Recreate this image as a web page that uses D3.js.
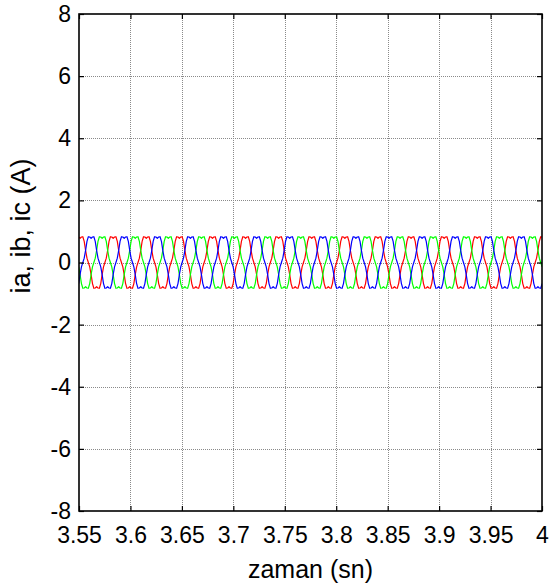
<!DOCTYPE html>
<html><head><meta charset="utf-8">
<script src="https://cdn.jsdelivr.net/npm/d3@7/dist/d3.min.js"></script>
<style>body{margin:0;background:#fff}svg{display:block}</style>
</head><body><svg id="c" width="551" height="587"></svg>
<script>
const xTicks = [3.55, 3.6, 3.65, 3.7, 3.75, 3.8, 3.85, 3.9, 3.95, 4];
const xTickLabels = ["3.55", "3.6", "3.65", "3.7", "3.75", "3.8", "3.85", "3.9", "3.95", "4"];
const yTicks = [-8, -6, -4, -2, 0, 2, 4, 6, 8];
const yTickLabels = ["-8", "-6", "-4", "-2", "0", "2", "4", "6", "8"];
const xLabel = "zaman (sn)";
const yLabel = "ia, ib, ic (A)";
const seriesNames = ["ia", "ib", "ic"];
const seriesColors = ["#ff0000", "#00ff00", "#0000ff"];
// sampled signal: first sample time and sample spacing (s)
const sampleStart = 3.5497;
const sampleStep = 0.0013404;
const ia = [
0.82,0.78,0.82,0.83,0.68,0.39,0.14,0,-0.14,-0.39,-0.68,-0.83,-0.82,-0.78,-0.82,-0.83,-0.68,-0.39,-0.14,0,0.14,0.39,0.68,0.83,
0.82,0.78,0.82,0.83,0.68,0.39,0.14,0,-0.14,-0.39,-0.68,-0.83,-0.82,-0.78,-0.82,-0.83,-0.68,-0.39,-0.14,0,0.14,0.39,0.68,0.83,
0.82,0.78,0.82,0.83,0.68,0.39,0.14,0,-0.14,-0.39,-0.68,-0.83,-0.82,-0.78,-0.82,-0.83,-0.68,-0.39,-0.14,0,0.14,0.39,0.68,0.83,
0.82,0.78,0.82,0.83,0.68,0.39,0.14,0,-0.14,-0.39,-0.68,-0.83,-0.82,-0.78,-0.82,-0.83,-0.68,-0.39,-0.14,0,0.14,0.39,0.68,0.83,
0.82,0.78,0.82,0.83,0.68,0.39,0.14,0,-0.14,-0.39,-0.68,-0.83,-0.82,-0.78,-0.82,-0.83,-0.68,-0.39,-0.14,0,0.14,0.39,0.68,0.83,
0.82,0.78,0.82,0.83,0.68,0.39,0.14,0,-0.14,-0.39,-0.68,-0.83,-0.82,-0.78,-0.82,-0.83,-0.68,-0.39,-0.14,0,0.14,0.39,0.68,0.83,
0.82,0.78,0.82,0.83,0.68,0.39,0.14,0,-0.14,-0.39,-0.68,-0.83,-0.82,-0.78,-0.82,-0.83,-0.68,-0.39,-0.14,0,0.14,0.39,0.68,0.83,
0.82,0.78,0.82,0.83,0.68,0.39,0.14,0,-0.14,-0.39,-0.68,-0.83,-0.82,-0.78,-0.82,-0.83,-0.68,-0.39,-0.14,0,0.14,0.39,0.68,0.83,
0.82,0.78,0.82,0.83,0.68,0.39,0.14,0,-0.14,-0.39,-0.68,-0.83,-0.82,-0.78,-0.82,-0.83,-0.68,-0.39,-0.14,0,0.14,0.39,0.68,0.83,
0.82,0.78,0.82,0.83,0.68,0.39,0.14,0,-0.14,-0.39,-0.68,-0.83,-0.82,-0.78,-0.82,-0.83,-0.68,-0.39,-0.14,0,0.14,0.39,0.68,0.83,
0.82,0.78,0.82,0.83,0.68,0.39,0.14,0,-0.14,-0.39,-0.68,-0.83,-0.82,-0.78,-0.82,-0.83,-0.68,-0.39,-0.14,0,0.14,0.39,0.68,0.83,
0.82,0.78,0.82,0.83,0.68,0.39,0.14,0,-0.14,-0.39,-0.68,-0.83,-0.82,-0.78,-0.82,-0.83,-0.68,-0.39,-0.14,0,0.14,0.39,0.68,0.83,
0.82,0.78,0.82,0.83,0.68,0.39,0.14,0,-0.14,-0.39,-0.68,-0.83,-0.82,-0.78,-0.82,-0.83,-0.68,-0.39,-0.14,0,0.14,0.39,0.68,0.83,
0.82,0.78,0.82,0.83,0.68,0.39,0.14,0,-0.14,-0.39,-0.68,-0.83,-0.82,-0.78,-0.82,-0.83,-0.68,-0.39,-0.14,0,0.14,0.39,0.68,0.83,
0.82];
const ib = [
-0.14,-0.39,-0.68,-0.83,-0.82,-0.78,-0.82,-0.83,-0.68,-0.39,-0.14,0,0.14,0.39,0.68,0.83,0.82,0.78,0.82,0.83,0.68,0.39,0.14,0,
-0.14,-0.39,-0.68,-0.83,-0.82,-0.78,-0.82,-0.83,-0.68,-0.39,-0.14,0,0.14,0.39,0.68,0.83,0.82,0.78,0.82,0.83,0.68,0.39,0.14,0,
-0.14,-0.39,-0.68,-0.83,-0.82,-0.78,-0.82,-0.83,-0.68,-0.39,-0.14,0,0.14,0.39,0.68,0.83,0.82,0.78,0.82,0.83,0.68,0.39,0.14,0,
-0.14,-0.39,-0.68,-0.83,-0.82,-0.78,-0.82,-0.83,-0.68,-0.39,-0.14,0,0.14,0.39,0.68,0.83,0.82,0.78,0.82,0.83,0.68,0.39,0.14,0,
-0.14,-0.39,-0.68,-0.83,-0.82,-0.78,-0.82,-0.83,-0.68,-0.39,-0.14,0,0.14,0.39,0.68,0.83,0.82,0.78,0.82,0.83,0.68,0.39,0.14,0,
-0.14,-0.39,-0.68,-0.83,-0.82,-0.78,-0.82,-0.83,-0.68,-0.39,-0.14,0,0.14,0.39,0.68,0.83,0.82,0.78,0.82,0.83,0.68,0.39,0.14,0,
-0.14,-0.39,-0.68,-0.83,-0.82,-0.78,-0.82,-0.83,-0.68,-0.39,-0.14,0,0.14,0.39,0.68,0.83,0.82,0.78,0.82,0.83,0.68,0.39,0.14,0,
-0.14,-0.39,-0.68,-0.83,-0.82,-0.78,-0.82,-0.83,-0.68,-0.39,-0.14,0,0.14,0.39,0.68,0.83,0.82,0.78,0.82,0.83,0.68,0.39,0.14,0,
-0.14,-0.39,-0.68,-0.83,-0.82,-0.78,-0.82,-0.83,-0.68,-0.39,-0.14,0,0.14,0.39,0.68,0.83,0.82,0.78,0.82,0.83,0.68,0.39,0.14,0,
-0.14,-0.39,-0.68,-0.83,-0.82,-0.78,-0.82,-0.83,-0.68,-0.39,-0.14,0,0.14,0.39,0.68,0.83,0.82,0.78,0.82,0.83,0.68,0.39,0.14,0,
-0.14,-0.39,-0.68,-0.83,-0.82,-0.78,-0.82,-0.83,-0.68,-0.39,-0.14,0,0.14,0.39,0.68,0.83,0.82,0.78,0.82,0.83,0.68,0.39,0.14,0,
-0.14,-0.39,-0.68,-0.83,-0.82,-0.78,-0.82,-0.83,-0.68,-0.39,-0.14,0,0.14,0.39,0.68,0.83,0.82,0.78,0.82,0.83,0.68,0.39,0.14,0,
-0.14,-0.39,-0.68,-0.83,-0.82,-0.78,-0.82,-0.83,-0.68,-0.39,-0.14,0,0.14,0.39,0.68,0.83,0.82,0.78,0.82,0.83,0.68,0.39,0.14,0,
-0.14,-0.39,-0.68,-0.83,-0.82,-0.78,-0.82,-0.83,-0.68,-0.39,-0.14,0,0.14,0.39,0.68,0.83,0.82,0.78,0.82,0.83,0.68,0.39,0.14,0,
-0.14];
const ic = [
-0.68,-0.39,-0.14,0,0.14,0.39,0.68,0.83,0.82,0.78,0.82,0.83,0.68,0.39,0.14,0,-0.14,-0.39,-0.68,-0.83,-0.82,-0.78,-0.82,-0.83,
-0.68,-0.39,-0.14,0,0.14,0.39,0.68,0.83,0.82,0.78,0.82,0.83,0.68,0.39,0.14,0,-0.14,-0.39,-0.68,-0.83,-0.82,-0.78,-0.82,-0.83,
-0.68,-0.39,-0.14,0,0.14,0.39,0.68,0.83,0.82,0.78,0.82,0.83,0.68,0.39,0.14,0,-0.14,-0.39,-0.68,-0.83,-0.82,-0.78,-0.82,-0.83,
-0.68,-0.39,-0.14,0,0.14,0.39,0.68,0.83,0.82,0.78,0.82,0.83,0.68,0.39,0.14,0,-0.14,-0.39,-0.68,-0.83,-0.82,-0.78,-0.82,-0.83,
-0.68,-0.39,-0.14,0,0.14,0.39,0.68,0.83,0.82,0.78,0.82,0.83,0.68,0.39,0.14,0,-0.14,-0.39,-0.68,-0.83,-0.82,-0.78,-0.82,-0.83,
-0.68,-0.39,-0.14,0,0.14,0.39,0.68,0.83,0.82,0.78,0.82,0.83,0.68,0.39,0.14,0,-0.14,-0.39,-0.68,-0.83,-0.82,-0.78,-0.82,-0.83,
-0.68,-0.39,-0.14,0,0.14,0.39,0.68,0.83,0.82,0.78,0.82,0.83,0.68,0.39,0.14,0,-0.14,-0.39,-0.68,-0.83,-0.82,-0.78,-0.82,-0.83,
-0.68,-0.39,-0.14,0,0.14,0.39,0.68,0.83,0.82,0.78,0.82,0.83,0.68,0.39,0.14,0,-0.14,-0.39,-0.68,-0.83,-0.82,-0.78,-0.82,-0.83,
-0.68,-0.39,-0.14,0,0.14,0.39,0.68,0.83,0.82,0.78,0.82,0.83,0.68,0.39,0.14,0,-0.14,-0.39,-0.68,-0.83,-0.82,-0.78,-0.82,-0.83,
-0.68,-0.39,-0.14,0,0.14,0.39,0.68,0.83,0.82,0.78,0.82,0.83,0.68,0.39,0.14,0,-0.14,-0.39,-0.68,-0.83,-0.82,-0.78,-0.82,-0.83,
-0.68,-0.39,-0.14,0,0.14,0.39,0.68,0.83,0.82,0.78,0.82,0.83,0.68,0.39,0.14,0,-0.14,-0.39,-0.68,-0.83,-0.82,-0.78,-0.82,-0.83,
-0.68,-0.39,-0.14,0,0.14,0.39,0.68,0.83,0.82,0.78,0.82,0.83,0.68,0.39,0.14,0,-0.14,-0.39,-0.68,-0.83,-0.82,-0.78,-0.82,-0.83,
-0.68,-0.39,-0.14,0,0.14,0.39,0.68,0.83,0.82,0.78,0.82,0.83,0.68,0.39,0.14,0,-0.14,-0.39,-0.68,-0.83,-0.82,-0.78,-0.82,-0.83,
-0.68,-0.39,-0.14,0,0.14,0.39,0.68,0.83,0.82,0.78,0.82,0.83,0.68,0.39,0.14,0,-0.14,-0.39,-0.68,-0.83,-0.82,-0.78,-0.82,-0.83,
-0.68];

const L = 79, R = 542, T = 14, B = 511;
const svg = d3.select("#c");
const x = d3.scaleLinear().domain([3.55, 4]).range([L, R]);
const y = d3.scaleLinear().domain([-8, 8]).range([B, T]);
const font = "'Liberation Sans', Arial, Helvetica, sans-serif";

// grid
const grid = svg.append("g").attr("stroke", "#8a8a8a").attr("stroke-width", 1).attr("stroke-dasharray", "1,1");
grid.selectAll(".gx").data(xTicks.slice(1, -1)).join("line")
  .attr("x1", d => Math.round(x(d)) + 0.5).attr("x2", d => Math.round(x(d)) + 0.5)
  .attr("y1", T).attr("y2", B);
grid.selectAll(".gy").data(yTicks.slice(1, -1)).join("line")
  .attr("y1", d => Math.round(y(d)) + 0.5).attr("y2", d => Math.round(y(d)) + 0.5)
  .attr("x1", L).attr("x2", R);

// series
svg.append("clipPath").attr("id", "clip").append("rect")
  .attr("x", L).attr("y", T).attr("width", R - L).attr("height", B - T);
const series = [ia, ib, ic];
const line = d3.line().x((d, i) => x(sampleStart + i * sampleStep)).y(d => y(d));
svg.append("g").attr("clip-path", "url(#clip)")
  .selectAll("path").data(series).join("path")
  .attr("d", d => line(d))
  .attr("fill", "none")
  .attr("stroke", (d, i) => seriesColors[i])
  .attr("stroke-width", 1.2)
  .attr("stroke-linejoin", "round");

// axes (box with inward ticks on all sides)
const tickLen = 5;
const axB = svg.append("g").attr("transform", `translate(0,${B})`)
  .call(d3.axisBottom(x).tickValues(xTicks).tickSize(-tickLen).tickPadding(16)
    .tickFormat((d, i) => xTickLabels[i]));
const axT = svg.append("g").attr("transform", `translate(0,${T})`)
  .call(d3.axisTop(x).tickValues(xTicks).tickSize(-tickLen).tickFormat(""));
const axL = svg.append("g").attr("transform", `translate(${L},0)`)
  .call(d3.axisLeft(y).tickValues(yTicks).tickSize(-tickLen).tickPadding(8)
    .tickFormat((d, i) => yTickLabels[i]));
const axR = svg.append("g").attr("transform", `translate(${R},0)`)
  .call(d3.axisRight(y).tickValues(yTicks).tickSize(-tickLen).tickFormat(""));
[axB, axT, axL, axR].forEach(a => {
  a.select(".domain").remove();
  a.selectAll(".tick line").attr("stroke", "#000").attr("stroke-width", 1.2);
  a.selectAll("text").attr("fill", "#000").style("font-family", font).style("font-size", "23px");
});
svg.append("rect").attr("x", L).attr("y", T).attr("width", R - L).attr("height", B - T)
  .attr("fill", "none").attr("stroke", "#000").attr("stroke-width", 1.6);

// labels
svg.append("text").attr("x", (L + R) / 2).attr("y", 578).attr("text-anchor", "middle")
  .style("font-family", font).style("font-size", "25px").text(xLabel);
svg.append("text").attr("transform", `translate(30,226) rotate(-90)`)
  .attr("text-anchor", "middle")
  .style("font-family", font).style("font-size", "27px").text(yLabel);
</script>
</body></html>
